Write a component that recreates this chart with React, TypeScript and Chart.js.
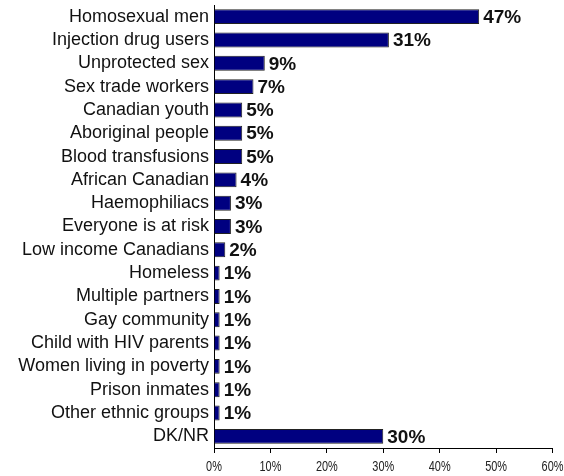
import React, { useEffect, useRef } from "react";
import { Chart, registerables } from "chart.js";

Chart.register(...registerables);

const categories = [
  "Homosexual men",
  "Injection drug users",
  "Unprotected sex",
  "Sex trade workers",
  "Canadian youth",
  "Aboriginal people",
  "Blood transfusions",
  "African Canadian",
  "Haemophiliacs",
  "Everyone is at risk",
  "Low income Canadians",
  "Homeless",
  "Multiple partners",
  "Gay community",
  "Child with HIV parents",
  "Women living in poverty",
  "Prison inmates",
  "Other ethnic groups",
  "DK/NR",
];

const values = [47, 31, 9, 7, 5, 5, 5, 4, 3, 3, 2, 1, 1, 1, 1, 1, 1, 1, 30];

const xTicks = [0, 10, 20, 30, 40, 50, 60];

const valueLabels = {
  id: "valueLabels",
  afterDatasetsDraw(chart: any) {
    const ctx = chart.ctx;
    const meta = chart.getDatasetMeta(0);
    ctx.save();
    ctx.font = "bold 19px 'Liberation Sans', Arial, sans-serif";
    ctx.fillStyle = "#111";
    ctx.textAlign = "left";
    ctx.textBaseline = "middle";
    meta.data.forEach((bar: any, i: number) => {
      ctx.fillText(values[i] + "%", bar.x + 4, bar.y + 1);
    });
    ctx.restore();
  },
};

const narrowTicks = {
  id: "narrowTicks",
  afterDraw(chart: any) {
    const ctx = chart.ctx;
    const xs = chart.scales.x;
    ctx.save();
    ctx.font = "14px 'Liberation Sans', Arial, sans-serif";
    ctx.fillStyle = "#222";
    ctx.textAlign = "center";
    ctx.textBaseline = "middle";
    xTicks.forEach((v) => {
      const px = xs.getPixelForValue(v);
      ctx.save();
      ctx.translate(px, xs.bottom - 9);
      ctx.scale(0.78, 1);
      ctx.fillText(v + "%", 0, 0);
      ctx.restore();
    });
    ctx.restore();
  },
};

export default function App() {
  const ref = useRef<HTMLCanvasElement>(null);
  useEffect(() => {
    const chart = new Chart(ref.current!, {
      type: "bar",
      data: {
        labels: categories,
        datasets: [
          {
            data: values,
            backgroundColor: "#000080",
            borderColor: "#222222",
            borderWidth: 1,
            barPercentage: 0.64,
            categoryPercentage: 1,
          },
        ],
      },
      options: {
        indexAxis: "y",
        responsive: false,
        animation: false,
        layout: { padding: { left: 0, top: 5, right: 11.5, bottom: 0 } },
        plugins: { legend: { display: false }, tooltip: { enabled: false } },
        scales: {
          x: {
            min: 0,
            max: 60,
            afterBuildTicks: (s: any) => {
              s.ticks = xTicks.map((v) => ({ value: v }));
            },
            afterFit: (s: any) => {
              s.height = 28;
              s.paddingLeft = 0;
              s.paddingRight = 0;
            },
            ticks: { display: false },
            grid: { display: true, drawOnChartArea: false, drawTicks: true, tickLength: 5, color: "#000" },
            border: { display: true, color: "#000", width: 1 },
          },
          y: {
            afterFit: (s: any) => {
              s.width = 214;
              s.paddingTop = 0;
              s.paddingBottom = 0;
            },
            ticks: {
              font: { family: "'Liberation Sans', Arial, sans-serif", size: 18 },
              color: "#111",
              padding: 5,
              autoSkip: false,
            },
            grid: { display: false, drawTicks: false },
            border: { display: true, color: "#000", width: 1 },
          },
        },
      },
      plugins: [valueLabels, narrowTicks],
    });
    return () => chart.destroy();
  }, []);
  return (
    <div style={{ position: "fixed", left: 0, top: 0, width: 564, height: 476, background: "#fff" }}>
      <canvas ref={ref} width={564} height={476} />
    </div>
  );
}
